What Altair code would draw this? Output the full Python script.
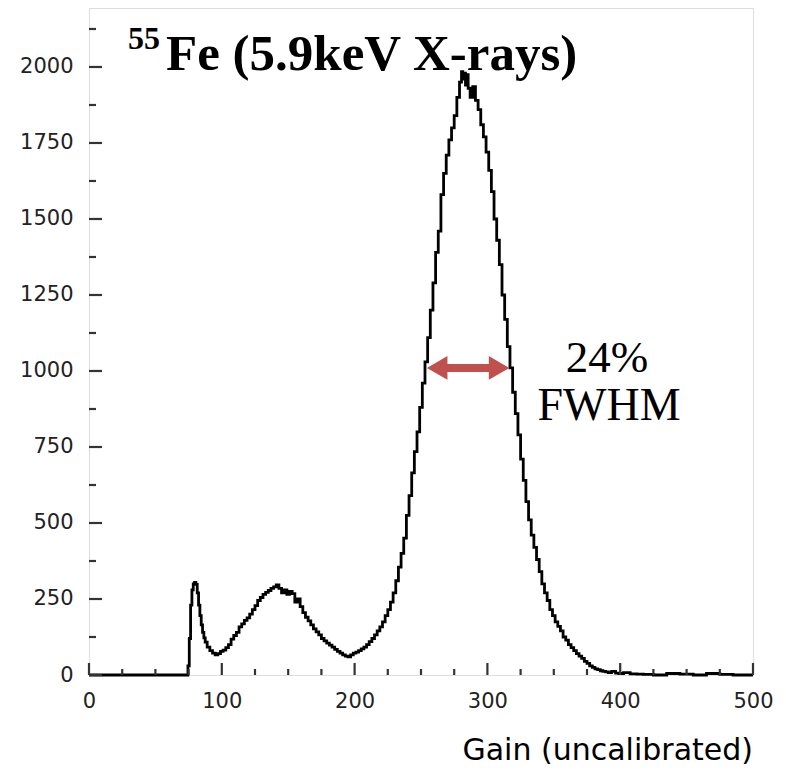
import altair as alt
import pandas as pd

# Histogram: gain (uncalibrated) -> counts
gain = [0, 74, 75, 76, 77, 78, 79, 80, 81, 82, 83, 84, 85, 86, 87, 88, 90, 92, 94, 96, 98,
        100, 102, 104, 106, 108, 110, 112, 114, 116, 118, 120, 122, 124, 126, 128, 130,
        132, 134, 136, 138, 140, 142, 144, 146, 148, 150, 152, 154, 156, 158, 160, 162,
        164, 166, 168, 170, 172, 174, 176, 178, 180, 182, 184, 186, 188, 190, 192, 194,
        196, 198, 200, 202, 204, 206, 208, 210, 212, 214, 216, 218, 220, 222, 224, 226,
        228, 230, 232, 234, 236, 238, 240, 242, 244, 246, 248, 250, 252, 254, 256, 258,
        260, 262, 264, 266, 268, 270, 272, 274, 276, 278, 280, 281, 282, 283, 284, 285,
        286, 288, 290, 292, 294, 296, 298, 300, 302, 304, 306, 308, 310, 312, 314, 316,
        318, 320, 322, 324, 326, 328, 330, 332, 334, 336, 338, 340, 342, 344, 346, 348,
        350, 352, 354, 356, 358, 360, 362, 364, 366, 368, 370, 372, 374, 376, 378, 380,
        382, 384, 386, 388, 390, 392, 395, 398, 400, 405, 410, 415, 420, 430, 440, 450,
        460, 470, 480, 490, 500]
counts = [0, 0, 30, 120, 230, 280, 300, 305, 298, 270, 230, 195, 165, 140, 122, 108, 92, 80, 72, 66, 70,
          78, 82, 90, 100, 118, 130, 140, 158, 168, 180, 188, 200, 215, 228, 245, 255,
          265, 272, 278, 285, 290, 296, 285, 270, 280, 265, 275, 268, 240, 250, 225, 205,
          190, 178, 165, 152, 142, 132, 120, 112, 105, 98, 92, 84, 78, 72, 66, 62,
          60, 66, 72, 75, 80, 86, 92, 100, 110, 120, 132, 145, 158, 175, 195, 215,
          240, 270, 310, 355, 400, 450, 525, 590, 665, 735, 800, 880, 960, 1030, 1110, 1200,
          1290, 1390, 1460, 1580, 1650, 1710, 1760, 1800, 1840, 1900, 1950, 1985, 1960, 1980, 1940, 1975,
          1930, 1900, 1935, 1890, 1860, 1810, 1770, 1720, 1660, 1590, 1500, 1430, 1350, 1250, 1170, 1080,
          1010, 930, 860, 790, 710, 640, 570, 510, 460, 420, 380, 340, 300, 270, 245, 215,
          195, 175, 160, 145, 125, 115, 100, 90, 80, 70, 62, 55, 45, 38, 30, 25,
          20, 18, 14, 12, 10, 8, 12, 6, 5, 8, 4, 3, 2, 0, 5, 3,
          0, 5, 2, 0, 0]

x_major = [0, 100, 200, 300, 400, 500]
x_minor = [25, 50, 75, 125, 150, 175, 225, 250, 275, 325, 350, 375, 425, 450, 475]
y_major = [0, 250, 500, 750, 1000, 1250, 1500, 1750, 2000]
y_minor = [125, 375, 625, 875, 1125, 1375, 1625, 1875, 2125]

fwhm_left = 253.5
fwhm_right = 317.5
fwhm_level = 1010

W, H = 664, 667
YMAX = 2194
XMAX = 500
xs = alt.Scale(domain=[0, XMAX], nice=False, zero=False)
ys = alt.Scale(domain=[0, YMAX], nice=False, zero=False)

hist = pd.DataFrame({"gain": gain, "counts": counts})

base_x = alt.X("gain:Q", scale=xs,
               axis=alt.Axis(values=x_major, ticks=False, tickSize=0, domain=False, grid=False,
                             labelFont="DejaVu Sans", labelFontSize=21, labelColor="#222",
                             labelPadding=15, title=None, labelFlush=False, labelOverlap=False,
                             format="d"))
base_y = alt.Y("counts:Q", scale=ys,
               axis=alt.Axis(values=y_major, ticks=False, tickSize=0, domain=False, grid=False,
                             labelFont="DejaVu Sans", labelFontSize=21, labelColor="#222",
                             labelPadding=16, title=None, labelOverlap=False, format="d"))

line = alt.Chart(hist).mark_line(interpolate="step", color="black", strokeWidth=2.8).encode(
    x=base_x, y=base_y)

tick_color = "#333333"

def xticks(vals, length):
    df = pd.DataFrame({"xv": vals})
    return alt.Chart(df).mark_tick(color=tick_color, thickness=2.2, size=length,
                                   orient="vertical", opacity=1).encode(
        x=alt.X("xv:Q", scale=xs), y=alt.value(H - length / 2))

def yticks(vals, length):
    df = pd.DataFrame({"yv": vals})
    return alt.Chart(df).mark_tick(color=tick_color, thickness=2.2, size=length,
                                   orient="horizontal", opacity=1).encode(
        y=alt.Y("yv:Q", scale=ys), x=alt.value(length / 2))

arrow_df = pd.DataFrame({"x1": [fwhm_left + 12], "x2": [fwhm_right - 12], "y": [fwhm_level]})
shaft = alt.Chart(arrow_df).mark_rule(color="#C0504D", strokeWidth=8).encode(
    x=alt.X("x1:Q", scale=xs), x2="x2:Q", y=alt.Y("y:Q", scale=ys))
heads_df = pd.DataFrame({"x": [fwhm_left + 8.7, fwhm_right - 8.7], "y": [fwhm_level, fwhm_level],
                         "shape": ["triangle-left", "triangle-right"]})
heads = alt.Chart(heads_df).mark_point(filled=True, color="#C0504D", opacity=1, size=560).encode(
    x=alt.X("x:Q", scale=xs), y=alt.Y("y:Q", scale=ys),
    shape=alt.Shape("shape:N", scale=None))

def label(text, x, y, size, font, weight="normal", align="left"):
    return alt.Chart(pd.DataFrame({"t": [text]})).mark_text(
        font=font, fontSize=size, fontWeight=weight, align=align, baseline="alphabetic",
        color="black").encode(text="t:N", x=alt.value(x), y=alt.value(y))

title_main = label("Fe (5.9keV X-rays)", 77, 62, 51, "Liberation Serif", "bold")
title_sup = label("55", 39, 41, 32, "Liberation Serif", "bold")
pct = label("24%", 518, 364, 45, "Liberation Serif", align="center")
fw = label("FWHM", 520, 412, 46, "Liberation Serif", align="center")
xtitle = label("Gain (uncalibrated)", W, 752, 30, "DejaVu Sans", align="right")

chart = alt.layer(
    line, xticks(x_minor, 6), xticks(x_major, 12), yticks(y_minor, 7), yticks(y_major, 13),
    shaft, heads, title_sup, title_main, pct, fw, xtitle
).properties(
    width=W, height=H,
    autosize=alt.AutoSizeParams(type="none"),
    padding={"left": 81, "top": 0, "right": 25, "bottom": 95},
).configure_view(stroke="#444444", strokeWidth=2).configure(background="white")

chart.save("out.html", embed_options={"renderer": "svg", "actions": False})
